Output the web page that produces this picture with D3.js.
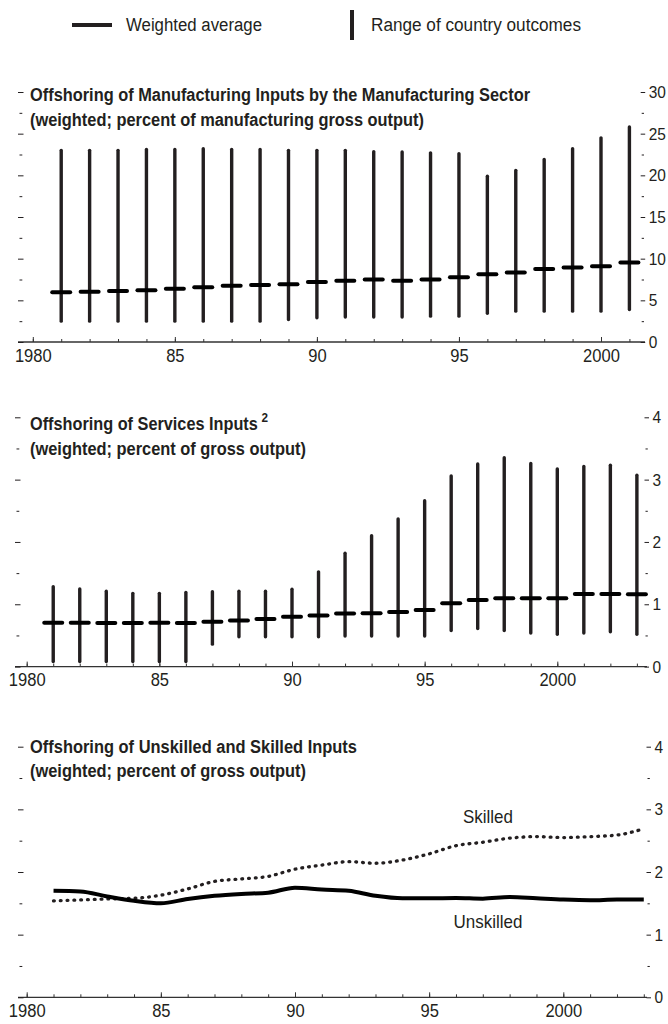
<!DOCTYPE html>
<html><head><meta charset="utf-8">
<script src="https://cdn.jsdelivr.net/npm/d3@7"></script>
<style>
body{margin:0;background:#fff;}
svg{display:block;font-family:"Liberation Sans",Arial,sans-serif;}
</style></head><body>
<svg id="c" width="668" height="1024"></svg>
<script>
// ---------- DATA ----------
const legendLabels = ["Weighted average", "Range of country outcomes"];

const mfgTitle = ["Offshoring of Manufacturing Inputs by the Manufacturing Sector", "(weighted; percent of manufacturing gross output)"];
const mfgYears = [1981,1982,1983,1984,1985,1986,1987,1988,1989,1990,1991,1992,1993,1994,1995,1996,1997,1998,1999,2000,2001];
const mfgAvg  = [5.96,6.04,6.12,6.2,6.4,6.56,6.76,6.84,6.92,7.2,7.34,7.5,7.34,7.5,7.78,8.14,8.34,8.76,8.94,9.08,9.55];
const mfgHigh = [23.0,23.0,23.0,23.1,23.1,23.2,23.1,23.1,23.0,23.0,23.0,22.85,22.8,22.7,22.6,19.9,20.6,21.9,23.2,24.5,25.8];
const mfgLow  = [2.5,2.5,2.5,2.5,2.5,2.5,2.5,2.5,2.7,2.9,3.0,3.0,3.0,3.1,3.1,3.45,3.7,3.7,3.7,3.7,3.9];
const mfgYTicks = [0,5,10,15,20,25,30];
const mfgYMinor = [2.5,7.5,12.5,17.5,22.5,27.5];

const svcTitle = ["Offshoring of Services Inputs", "(weighted; percent of gross output)"];
const svcSup = "2";
const svcYears = [1981,1982,1983,1984,1985,1986,1987,1988,1989,1990,1991,1992,1993,1994,1995,1996,1997,1998,1999,2000,2001,2002,2003];
const svcAvg  = [0.705,0.705,0.70,0.70,0.705,0.70,0.72,0.74,0.765,0.80,0.82,0.85,0.855,0.875,0.91,1.015,1.07,1.095,1.095,1.095,1.165,1.165,1.16];
const svcHigh = [1.28,1.245,1.21,1.175,1.175,1.19,1.2,1.21,1.21,1.24,1.52,1.82,2.1,2.37,2.66,3.06,3.25,3.35,3.26,3.17,3.21,3.23,3.07];
const svcLow  = [0.08,0.08,0.08,0.08,0.08,0.08,0.36,0.48,0.48,0.48,0.48,0.49,0.49,0.49,0.49,0.58,0.61,0.58,0.54,0.52,0.54,0.56,0.52];
const smallYTicks = [0,1,2,3,4];
const smallYMinor = [0.5,1.5,2.5,3.5];

const skTitle = ["Offshoring of Unskilled and Skilled Inputs", "(weighted; percent of gross output)"];
const skYears = [1981,1982,1983,1984,1985,1986,1987,1988,1989,1990,1991,1992,1993,1994,1995,1996,1997,1998,1999,2000,2001,2002,2003];
const unskilled = [1.70,1.69,1.61,1.54,1.50,1.57,1.62,1.65,1.67,1.75,1.72,1.70,1.62,1.58,1.58,1.585,1.575,1.60,1.58,1.56,1.55,1.56,1.56];
const skilled   = [1.54,1.555,1.57,1.58,1.63,1.73,1.85,1.89,1.93,2.045,2.11,2.165,2.14,2.19,2.29,2.42,2.475,2.54,2.565,2.55,2.565,2.59,2.69];
const seriesLabels = ["Skilled", "Unskilled"];

const xTickYears = [1980,1985,1990,1995,2000];
const xTickLabels = ["1980","85","90","95","2000"];
const allYears = [1980,1981,1982,1983,1984,1985,1986,1987,1988,1989,1990,1991,1992,1993,1994,1995,1996,1997,1998,1999,2000,2001,2002,2003];

// ---------- DRAW ----------
const INK = "#231f20";
const svg = d3.select("#c");

// legend
const lg = svg.append("g");
lg.append("line").attr("x1",72).attr("x2",112).attr("y1",25).attr("y2",25)
  .attr("stroke",INK).attr("stroke-width",4);
lg.append("text").attr("x",126).attr("y",31).text(legendLabels[0])
  .attr("font-size",18).attr("fill",INK).attr("textLength",136).attr("lengthAdjust","spacingAndGlyphs");
lg.append("line").attr("x1",352).attr("x2",352).attr("y1",10).attr("y2",40)
  .attr("stroke",INK).attr("stroke-width",4);
lg.append("text").attr("x",371).attr("y",31).text(legendLabels[1])
  .attr("font-size",18).attr("fill",INK).attr("textLength",210).attr("lengthAdjust","spacingAndGlyphs");

function frame(cfg){
  const g = svg.append("g");
  const x = d3.scaleLinear().domain([1980,2000]).range([cfg.xA,cfg.xB]);
  const y = d3.scaleLinear().domain([0,cfg.yMax]).range([cfg.bottom,cfg.top]);

  // title
  cfg.title.forEach((t,i)=>{
    const tx = g.append("text").attr("x",30).attr("y",cfg.titleY[i])
      .attr("font-size",18).attr("font-weight","bold").attr("fill",INK)
      .attr("textLength",cfg.titleW[i]).attr("lengthAdjust","spacingAndGlyphs");
    tx.append("tspan").text(t);
    if (i===0 && cfg.sup){
      tx.append("tspan").attr("dx",4).attr("dy",-8).attr("font-size",13).text(cfg.sup);
    }
  });

  // baseline
  g.append("line").attr("x1",cfg.left).attr("x2",cfg.right)
    .attr("y1",cfg.bottom).attr("y2",cfg.bottom).attr("stroke","#333").attr("stroke-width",1.3);

  // x ticks (minor yearly)
  const years = allYears.filter(v=>v<=cfg.lastYear);
  const xm = g.append("g").attr("transform",`translate(0,${cfg.bottom})`)
    .call(d3.axisBottom(x).tickValues(years).tickSize(-3).tickFormat(""));
  xm.select(".domain").remove();
  xm.selectAll("line").attr("stroke","#333");
  const xM = g.append("g").attr("transform",`translate(0,${cfg.bottom})`)
    .call(d3.axisBottom(x).tickValues(xTickYears).tickSize(-5).tickPadding(7)
      .tickFormat((d,i)=>xTickLabels[i]));
  xM.select(".domain").remove();
  xM.selectAll("line").attr("stroke","#333");
  xM.selectAll("text").attr("font-size",18).attr("fill",INK)
    .attr("font-family",'"Liberation Sans",Arial,sans-serif')
    .attr("textLength",function(){return this.textContent.length*9.2;})
    .attr("lengthAdjust","spacingAndGlyphs");

  // right axis
  const rM = g.append("g").attr("transform",`translate(${cfg.rTick},0)`)
    .call(d3.axisRight(y).tickValues(cfg.yTicks).tickSize(4.5).tickPadding(3.5).tickFormat(d3.format("d")));
  rM.select(".domain").remove();
  rM.selectAll("line").attr("stroke",INK);
  rM.selectAll("text").attr("font-size",17).attr("fill",INK)
    .attr("font-family",'"Liberation Sans",Arial,sans-serif')
    .attr("textLength",function(){return this.textContent.length*8.6;})
    .attr("lengthAdjust","spacingAndGlyphs");
  const rm = g.append("g").attr("transform",`translate(${cfg.rTick+1},0)`)
    .call(d3.axisRight(y).tickValues(cfg.yMinor).tickSize(2.3).tickFormat(""));
  rm.select(".domain").remove();
  rm.selectAll("line").attr("stroke",INK);

  // left ticks
  const lM = g.append("g").attr("transform",`translate(${cfg.left},0)`)
    .call(d3.axisRight(y).tickValues(cfg.yTicks).tickSize(5.5).tickFormat(""));
  lM.select(".domain").remove();
  lM.selectAll("line").attr("stroke",INK);
  const lm = g.append("g").attr("transform",`translate(${cfg.left+1.5},0)`)
    .call(d3.axisRight(y).tickValues(cfg.yMinor).tickSize(2.8).tickFormat(""));
  lm.select(".domain").remove();
  lm.selectAll("line").attr("stroke",INK);

  return {g,x,y};
}

function rangePanel(cfg, years, low, high, avg){
  const {g,x,y} = frame(cfg);
  const data = years.map((yr,i)=>({yr,low:low[i],high:high[i],avg:avg[i]}));
  g.append("g").selectAll("line").data(data).join("line")
    .attr("x1",d=>x(d.yr)).attr("x2",d=>x(d.yr))
    .attr("y1",d=>y(d.low)).attr("y2",d=>y(d.high))
    .attr("stroke",INK).attr("stroke-width",3.4).attr("stroke-linecap","round");
  g.append("g").selectAll("line").data(data).join("line")
    .attr("x1",d=>x(d.yr)-9).attr("x2",d=>x(d.yr)+9)
    .attr("y1",d=>y(d.avg)).attr("y2",d=>y(d.avg))
    .attr("stroke","#000").attr("stroke-width",4).attr("stroke-linecap","round");
  return {g,x,y};
}

// Panel 1
rangePanel({
  title: mfgTitle, titleY:[101,126], titleW:[500,394],
  top:92, bottom:342, yMax:30, xA:32.8, xB:601, left:18, right:645,
  rTick:640.7, yTicks:mfgYTicks, yMinor:mfgYMinor, lastYear:2001
}, mfgYears, mfgLow, mfgHigh, mfgAvg);

// Panel 2
rangePanel({
  title: svcTitle, sup: svcSup, titleY:[430,455], titleW:[238,276],
  top:417.3, bottom:666.6, yMax:4, xA:26.7, xB:557.3, left:15, right:647,
  rTick:644.5, yTicks:smallYTicks, yMinor:smallYMinor, lastYear:2003
}, svcYears, svcLow, svcHigh, svcAvg);

// Panel 3
const p3 = frame({
  title: skTitle, titleY:[753,777], titleW:[327,276],
  top:746.7, bottom:997.3, yMax:4, xA:26.7, xB:563.3, left:18, right:647,
  rTick:646.5, yTicks:smallYTicks, yMinor:smallYMinor, lastYear:2003
});
const line = d3.line().x(d=>p3.x(d[0])).y(d=>p3.y(d[1])).curve(d3.curveMonotoneX);
p3.g.append("path").datum(skYears.map((yr,i)=>[yr,skilled[i]]))
  .attr("d",line).attr("fill","none").attr("stroke",INK).attr("stroke-width",3.3)
  .attr("stroke-dasharray","0.8,6").attr("stroke-linecap","round");
p3.g.append("path").datum(skYears.map((yr,i)=>[yr,unskilled[i]]))
  .attr("d",line).attr("fill","none").attr("stroke","#000").attr("stroke-width",4);
p3.g.append("text").attr("x",488).attr("y",823).attr("text-anchor","middle").text(seriesLabels[0])
  .attr("font-size",19).attr("fill",INK).attr("textLength",50).attr("lengthAdjust","spacingAndGlyphs");
p3.g.append("text").attr("x",488).attr("y",928).attr("text-anchor","middle").text(seriesLabels[1])
  .attr("font-size",19).attr("fill",INK).attr("textLength",69).attr("lengthAdjust","spacingAndGlyphs");
</script>
</body></html>
